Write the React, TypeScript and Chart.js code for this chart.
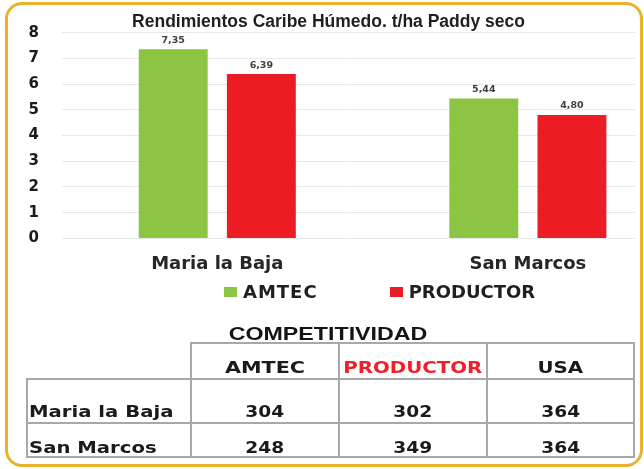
import React, { useEffect, useRef } from 'react';
import { Chart, registerables } from 'chart.js';

Chart.register(...registerables);

// ---- Chart data ----
const categories = ['Maria la Baja', 'San Marcos'];
const seriesNames = ['AMTEC', 'PRODUCTOR'];
const amtecValues = [7.35, 5.44];
const productorValues = [6.39, 4.8];
const seriesColors = ['#8CC444', '#EC1C24'];
const chartTitle = 'Rendimientos Caribe Húmedo. t/ha Paddy seco';
const yMin = 0;
const yMax = 8;
const yStep = 1;

// ---- Table data ----
const tableTitle = 'COMPETITIVIDAD';
const tableColumns = ['AMTEC', 'PRODUCTOR', 'USA'];
const tableColumnColors = ['#1a1a1a', '#F0202A', '#1a1a1a'];
const tableRows = ['Maria la Baja', 'San Marcos'];
const compAmtec = [304, 248];
const compProductor = [302, 349];
const compUsa = [364, 364];

const fmt = (v: number) => v.toFixed(2).replace('.', ',');

const valueLabels = {
  id: 'valueLabels',
  afterDatasetsDraw(chart: any) {
    const ctx = chart.ctx;
    ctx.save();
    ctx.font = 'bold 9.5px "DejaVu Sans"';
    ctx.fillStyle = '#404040';
    ctx.textAlign = 'center';
    ctx.textBaseline = 'alphabetic';
    chart.data.datasets.forEach((ds: any, i: number) => {
      const meta = chart.getDatasetMeta(i);
      meta.data.forEach((el: any, j: number) => {
        ctx.fillText(fmt(ds.data[j].y), el.x, el.y - 6.5);
      });
    });
    ctx.restore();
  },
};

function Wide({ children, origin = 'center', k = 1.32 }: { children: React.ReactNode; origin?: string; k?: number }) {
  return (
    <span style={{ display: 'inline-block', transform: `scaleX(${k})`, transformOrigin: origin }}>{children}</span>
  );
}

export default function App() {
  const ref = useRef<HTMLCanvasElement>(null);

  useEffect(() => {
    const seriesValues = [amtecValues, productorValues];
    const chart = new Chart(ref.current as HTMLCanvasElement, {
      type: 'bar',
      data: {
        datasets: seriesNames.map((name, s) => ({
          label: name,
          data: seriesValues[s].map((v, i) => ({ x: i, y: v })),
          backgroundColor: seriesColors[s],
          borderWidth: 0,
          categoryPercentage: 0.5676,
          barPercentage: 0.782,
        })),
      },
      options: {
        animation: false,
        responsive: true,
        maintainAspectRatio: false,
        layout: { padding: { left: 22, right: 9, top: 0, bottom: 1 } },
        plugins: {
          legend: { display: false },
          tooltip: { enabled: false },
          title: {
            display: true,
            text: chartTitle,
            color: '#1f1f1f',
            font: { family: '"Liberation Sans", Arial, sans-serif', size: 17.5, weight: 'bold', lineHeight: 1.15 },
            padding: { top: 12.5, bottom: 0 },
          },
        },
        scales: {
          x: {
            type: 'linear',
            min: -0.5,
            max: 1.345,
            offset: false,
            grid: { display: false },
            border: { display: false },
            afterBuildTicks: (scale: any) => {
              scale.ticks = categories.map((_, i) => ({ value: i }));
            },
            ticks: {
              callback: (v: any) => categories[v as number] ?? '',
              color: '#262626',
              font: { family: '"DejaVu Sans"', size: 18, weight: 'bold', lineHeight: 1.2 },
              padding: 7,
              maxRotation: 0,
              autoSkip: false,
            },
          },
          y: {
            min: yMin,
            max: yMax,
            afterFit: (scale: any) => {
              scale.width = 40;
            },
            grid: { color: '#E9E9E9', lineWidth: 1, drawTicks: false },
            border: { display: false },
            ticks: {
              stepSize: yStep,
              color: '#1a1a1a',
              font: { family: '"DejaVu Sans"', size: 15, weight: 'bold' },
              padding: 23,
            },
          },
        },
      },
      plugins: [valueLabels],
    } as any);
    return () => chart.destroy();
  }, []);

  const compData = [compAmtec, compProductor, compUsa];
  const border = '2px solid #A8A8A8';
  const cellFont: React.CSSProperties = {
    fontFamily: '"DejaVu Sans", sans-serif',
    fontWeight: 'bold',
    fontSize: 15,
    lineHeight: '16px',
    color: '#1a1a1a',
  };

  return (
    <div
      style={{
        position: 'absolute',
        left: 0,
        top: 0,
        width: 644,
        height: 469,
        overflow: 'hidden',
        background: '#ffffff',
      }}
    >
      <div
        style={{
          position: 'absolute',
          left: 5,
          top: 2,
          width: 638,
          height: 465,
          boxSizing: 'border-box',
          border: '3px solid #E9B42C',
          borderRadius: 17,
        }}
      />
      <div style={{ position: 'absolute', left: 0, top: 0, width: 644, height: 283 }}>
        <canvas ref={ref} />
      </div>

      {/* legend */}
      <div
        style={{
          position: 'absolute',
          left: 224,
          top: 281,
          display: 'flex',
          alignItems: 'center',
          height: 22,
          fontFamily: '"DejaVu Sans", sans-serif',
          fontWeight: 'bold',
          fontSize: 18,
          lineHeight: '22px',
          color: '#1f1f1f',
          whiteSpace: 'nowrap',
        }}
      >
        {seriesNames.map((name, i) => (
          <div key={name} style={{ display: 'flex', alignItems: 'center', marginLeft: i === 0 ? 0 : 72 }}>
            <span style={{ display: 'inline-block', width: 13, height: 10, background: seriesColors[i], marginRight: 6 }} />
            <span style={{ letterSpacing: i === 0 ? 1 : 0 }}>{name}</span>
          </div>
        ))}
      </div>

      {/* table title */}
      <div
        style={{
          position: 'absolute',
          left: 128,
          top: 323,
          width: 400,
          textAlign: 'center',
          fontFamily: '"Liberation Sans", Arial, sans-serif',
          fontWeight: 'bold',
          fontSize: 18,
          lineHeight: '22px',
          color: '#141414',
        }}
      >
        <Wide k={1.29}>{tableTitle}</Wide>
      </div>

      {/* table */}
      <table
        style={{
          position: 'absolute',
          left: 26,
          top: 342,
          width: 607,
          borderCollapse: 'collapse',
          tableLayout: 'fixed',
        }}
      >
        <colgroup>
          <col style={{ width: 164 }} />
          <col style={{ width: 148 }} />
          <col style={{ width: 148 }} />
          <col style={{ width: 147 }} />
        </colgroup>
        <tbody>
          <tr style={{ height: 36 }}>
            <td style={{ borderTop: 'none', borderLeft: 'none', borderRight: border, borderBottom: border, padding: 0 }} />
            {tableColumns.map((c, i) => (
              <td
                key={c}
                style={{
                  ...cellFont,
                  lineHeight: '18px',
                  color: tableColumnColors[i],
                  border,
                  textAlign: 'center',
                  verticalAlign: 'bottom',
                  padding: '0 0 1px 0',
                }}
              >
                <Wide k={i === 0 ? 1.38 : 1.32}>{c}</Wide>
              </td>
            ))}
          </tr>
          {tableRows.map((r, ri) => (
            <tr key={r} style={{ height: ri === 0 ? 44 : 34 }}>
              <td
                style={{
                  ...cellFont,
                  border,
                  textAlign: 'left',
                  verticalAlign: 'bottom',
                  padding: ri === 0 ? '0 0 2px 1px' : '0 0 0 1px',
                  whiteSpace: 'nowrap',
                }}
              >
                <Wide origin="left center" k={1.31}>{r}</Wide>
              </td>
              {compData.map((col, ci) => (
                <td
                  key={ci}
                  style={{
                    ...cellFont,
                    border,
                    textAlign: 'center',
                    verticalAlign: 'bottom',
                    padding: ri === 0 ? '0 0 2px 0' : '0 0 0 0',
                  }}
                >
                  <Wide k={1.24}>{col[ri]}</Wide>
                </td>
              ))}
            </tr>
          ))}
        </tbody>
      </table>
    </div>
  );
}
